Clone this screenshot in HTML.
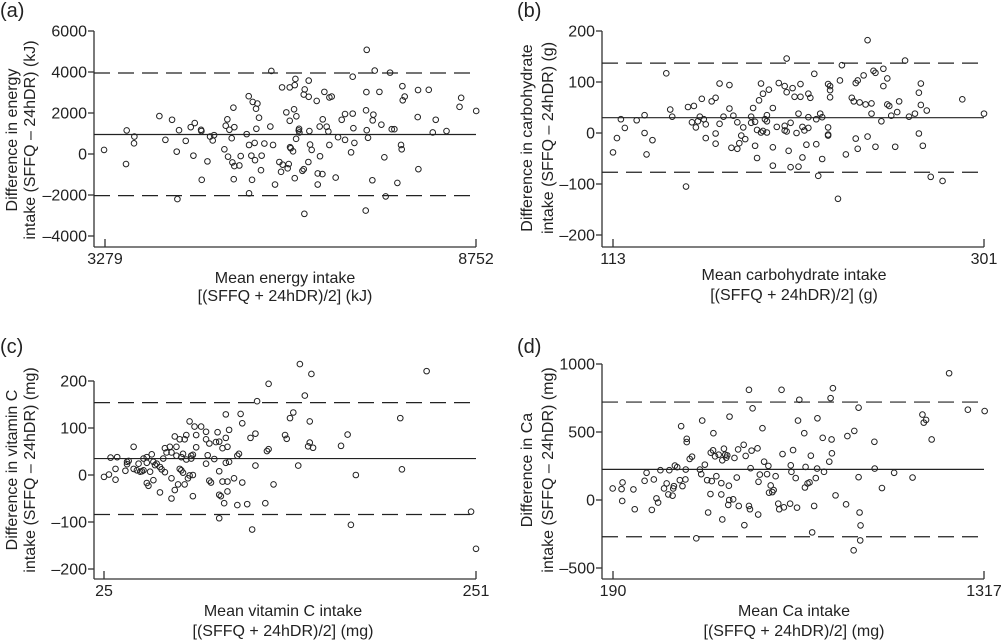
<!DOCTYPE html>
<html><head><meta charset="utf-8">
<style>
html,body{margin:0;padding:0;background:#fff;}
svg{display:block;font-family:"Liberation Sans",Arial,sans-serif;}
</style></head>
<body>
<svg id="fig" width="1004" height="641" viewBox="0 0 1004 641" xmlns="http://www.w3.org/2000/svg"></svg>
<script>
// ---- Panel (a) energy ----
const aX=[3265,3599,3589,3712,3707,4081,4170,4268,4337,4371,4347,4470,4544,4603,4583,4696,4701,4706,4790,4829,4868,4888,5040,5060,5084,5094,5114,5148,5158,5173,5187,5178,5187,5261,5281,5369,5399,5404,5404,5438,5458,5448,5487,5492,5512,5507,5527,5551,5580,5590,5630,5718,5733,5758,5787,5851,5876,5891,5900,5954,5974,5989,6004,6004,6009,6019,6053,6068,6078,6078,6088,6098,6102,6137,6142,6147,6191,6211,6220,6225,6211,6284,6284,6279,6294,6304,6328,6402,6417,6417,6451,6446,6486,6491,6515,6549,6574,6589,6589,6623,6682,6717,6771,6820,6820,6909,6933,6943,6933,6958,7125,7130,7135,7140,7140,7159,7223,7228,7238,7258,7327,7356,7400,7420,7484,7509,7548,7592,7646,7656,7666,7671,7700,7892,7897,7902,8055,8114,8158,8317,8509,8533,8755];
const aY=[200,1150,-490,850,520,1850,690,1670,115,1160,-2200,640,1310,1510,-80,1180,1120,-1260,-360,850,660,920,230,1380,1690,-130,1180,770,-410,2260,1310,-1230,-590,-560,-100,970,2820,440,-1920,-80,2540,-1260,540,-300,1230,2210,2460,1770,-790,-80,510,1340,4050,440,-1490,-390,-870,3250,-520,2030,-700,-490,1620,3250,330,280,130,2180,-1180,3360,3660,740,1840,1150,1230,1050,-820,-740,-2920,3150,2900,2790,3580,-390,1120,460,200,2590,-950,-1490,-110,1340,-980,1690,3030,1330,1100,2760,440,2800,-1150,820,1670,1950,690,80,3770,1260,1970,540,-2760,2130,3020,5080,1160,790,-1280,1640,1920,4070,3030,1430,-160,-2070,3970,1210,1210,-1410,440,230,3310,2620,2800,1800,3120,-740,3130,1050,1670,1120,2300,2740,2100];
const aYTicks=[6000,4000,2000,0,-2000,-4000];
const aXTicks=[3279,8752];
const aLines=[950,3950,-2030]; // mean, upper LoA, lower LoA

// ---- Panel (b) carbohydrate ----
const bX=[113,115,117,119,125,129,129,130,133,140,142,143,150,151,153,154,155,156,157,158,159,160,160,163,165,165,165,167,167,169,172,172,173,174,176,176,178,177,179,180,183,183,184,185,185,186,186,187,188,188,189,189,190,191,191,191,192,194,194,194,196,197,200,200,200,201,201,201,202,203,203,204,205,206,207,207,208,208,209,209,210,211,212,212,213,212,215,216,216,217,218,219,219,222,222,222,222,223,223,223,227,228,229,231,234,235,236,237,236,237,238,240,241,242,242,244,244,245,246,246,249,250,250,252,252,253,254,256,257,258,261,263,266,268,269,269,268,270,272,274,280,290,301];
const bY=[-38,-10,27,10,25,35,0,-42,-14,117,46,32,-105,51,21,53,11,23,32,67,27,17,-10,62,69,-1,-21,97,18,32,94,48,-29,34,21,-31,-5,-20,11,-12,32,20,49,-25,22,6,-49,64,1,97,77,4,27,23,1,35,85,-28,49,-64,12,98,92,14,5,146,80,3,-35,20,-67,88,71,0,-66,38,71,96,-48,12,5,-23,10,77,69,31,116,-22,27,-84,38,31,-51,11,-3,96,-5,84,92,70,-129,103,133,-42,69,62,-11,-31,98,103,60,113,56,182,-7,38,58,122,118,-27,23,126,92,107,56,53,34,-27,41,62,142,32,38,79,97,55,-1,-25,44,-86,-94,66,38];
const bYTicks=[200,100,0,-100,-200];
const bXTicks=[113,301];
const bLines=[30,137,-77];

// ---- Panel (c) vitamin C ----
const cX=[25,28,29,32,32,33,38,39,39,40,43,43,45,46,47,48,49,49,51,51,51,52,53,54,55,55,56,57,59,59,60,61,62,62,63,65,66,66,66,68,68,69,69,70,71,71,72,72,73,73,74,74,75,75,76,77,77,78,78,79,79,79,80,81,81,84,87,87,87,88,89,89,90,92,93,94,95,95,95,95,96,97,97,98,99,99,99,100,100,100,101,101,104,106,106,107,108,109,109,112,114,115,117,117,118,123,124,125,125,128,135,136,138,140,143,144,147,150,151,150,149,152,169,173,175,178,205,206,221,248,251];
const cY=[-4,1,37,13,-10,38,9,28,23,30,13,60,10,24,7,8,35,10,-17,26,38,-23,7,44,-11,28,21,24,17,-37,12,35,6,57,48,60,-7,-50,48,82,-32,60,41,-20,13,76,38,10,5,45,-20,76,33,85,-7,114,-1,35,41,-45,43,0,103,59,85,103,92,24,76,42,-12,67,-16,34,70,91,71,8,-92,-42,-45,-14,57,-60,26,79,129,-14,-35,60,96,28,-7,-64,41,45,130,-16,110,-62,79,-116,88,20,157,-60,51,55,194,-20,85,77,121,133,20,236,169,114,215,69,61,58,62,86,-106,0,121,12,221,-78,-157];
const cYTicks=[200,100,0,-100,-200];
const cXTicks=[25,251];
const cLines=[35,154,-84];

// ---- Panel (d) calcium ----
const dX=[189,216,219,218,252,256,286,292,308,314,322,327,334,345,353,358,361,371,373,375,378,385,393,397,401,410,411,414,414,423,430,443,454,458,461,469,476,479,486,487,490,495,494,500,504,511,519,522,519,522,527,531,534,537,542,544,543,540,555,559,566,570,572,587,589,593,603,603,606,608,611,614,629,631,632,636,644,649,658,662,664,669,674,678,684,692,695,702,705,709,728,730,732,737,745,749,752,756,771,773,775,781,787,791,795,801,806,810,811,827,831,847,851,854,855,858,866,898,902,921,923,936,936,939,942,941,984,985,1007,1044,1100,1130,1134,1141,1158,1211,1268,1319];
const dY=[85,80,129,-7,78,-68,141,200,-73,151,12,-19,219,85,122,41,219,32,85,102,253,241,146,543,102,151,224,450,426,302,319,-282,224,190,584,260,146,-92,44,348,139,491,365,321,175,333,124,-143,41,292,377,333,311,328,105,613,0,-36,5,309,165,372,-44,406,-185,324,810,-44,-68,234,363,674,380,-107,134,187,528,282,190,251,54,107,58,73,175,-27,-68,810,338,-54,-27,255,207,367,161,-56,584,737,491,92,243,122,129,326,-238,-44,161,231,601,457,207,282,749,445,343,822,34,-32,470,-370,508,679,168,-92,-187,-297,428,231,88,200,165,628,569,589,445,932,664,654];
const dYTicks=[1000,500,0,-500];
const dXTicks=[190,1317];
const dLines=[225,720,-270];

const NS="http://www.w3.org/2000/svg";
const svg=document.getElementById('fig');
function mk(tag,attrs,parent){const e=document.createElementNS(NS,tag);for(const k in attrs)e.setAttribute(k,attrs[k]);(parent||svg).appendChild(e);return e;}
function fmt(v){return v<0?'\u2013'+Math.abs(v):String(v);}

function panel(cfg){
  const g=mk('g',{});
  
  
  const sx=v=>cfg.x0+(v-cfg.xmin)/(cfg.xmax-cfg.xmin)*(cfg.x1-cfg.x0);
  const sy=v=>cfg.y0+(v-cfg.ymin)/(cfg.ymax-cfg.ymin)*(cfg.y1-cfg.y0);
  // panel label
  const pl=mk('text',{x:cfg.lx,y:cfg.ly,'font-size':20,fill:'#222'},g);pl.textContent='('+cfg.id+')';
  
  
  const ax=cfg.ax, ab=cfg.ab, right=sx(cfg.xmax);
  const topY=sy(cfg.yTicks[0]);
  // axes
  const yAxis=mk('line',{x1:ax,y1:topY,x2:ax,y2:ab,stroke:'#333','stroke-width':1.3},g);
  
  
  const xAxis=mk('line',{x1:ax,y1:ab,x2:right,y2:ab,stroke:'#333','stroke-width':1.3},g);
  
  
  cfg.yTicks.forEach(v=>{
    const y=sy(v);
    mk('line',{x1:ax-6,y1:y,x2:ax,y2:y,stroke:'#333','stroke-width':1.3},g);
    const t=mk('text',{x:ax-7,y:y+5.5,'font-size':16,'text-anchor':'end',fill:'#222'},g);
    t.textContent=fmt(v);
    
    
  });
  cfg.xTicks.forEach(v=>{
    const x=sx(v);
    mk('line',{x1:x,y1:ab-8,x2:x,y2:ab,stroke:'#333','stroke-width':1.3},g);
    const t=mk('text',{x:x,y:ab+17,'font-size':16,'text-anchor':'middle',fill:'#222'},g);
    t.textContent=fmt(v);
    
    
  });
  // reference lines
  const names=['mean-difference-line','upper-limit-line','lower-limit-line'];
  cfg.lines.forEach((v,i)=>{
    const l=mk('line',{x1:ax,y1:sy(v),x2:right,y2:sy(v),stroke:'#222','stroke-width':1.2},g);
    if(i>0)l.setAttribute('stroke-dasharray','16 8');
    
    
  });
  // points
  cfg.xs.forEach((xv,i)=>{
    const c=mk('circle',{cx:sx(xv),cy:sy(cfg.ys[i]),r:2.8,fill:'none',stroke:'#222','stroke-width':1},g);
    
    
  });
  // y label
  const cy=cfg.ycy;
  [[cfg.ylx1,cfg.yl1],[cfg.ylx2,cfg.yl2]].forEach(([x,s])=>{
    const t=mk('text',{x:x,y:cy,'font-size':16,'text-anchor':'middle',fill:'#222',transform:'rotate(-90 '+x+' '+cy+')'},g);
    t.textContent=s;
    
    
  });
  [[cfg.xly1,cfg.xl1],[cfg.xly2,cfg.xl2]].forEach(([y,s])=>{
    const t=mk('text',{x:cfg.xlx,y:y,'font-size':16,'text-anchor':'middle',fill:'#222'},g);
    t.textContent=s;
    
    
  });
}

panel({id:'a',xs:aX,ys:aY,xTicks:aXTicks,yTicks:aYTicks,lines:aLines,
  xmin:3279,xmax:8752,x0:105,x1:476,ymin:0,ymax:4000,y0:154,y1:72,ax:94,ab:247,
  lx:0,ly:17,ylx1:17,ylx2:35,ycy:140,yl1:'Difference in energy',yl2:'intake (SFFQ \u2013 24hDR) (kJ)',
  xlx:285,xly1:283,xly2:301,xl1:'Mean energy intake',xl2:'[(SFFQ + 24hDR)/2] (kJ)'});
panel({id:'b',xs:bX,ys:bY,xTicks:bXTicks,yTicks:bYTicks,lines:bLines,
  xmin:113,xmax:301,x0:613,x1:984,ymin:0,ymax:100,y0:133,y1:82,ax:602,ab:247,
  lx:517,ly:17,ylx1:532,ylx2:553,ycy:138,yl1:'Difference in carbohydrate',yl2:'intake (SFFQ \u2013 24hDR) (g)',
  xlx:794,xly1:280,xly2:300,xl1:'Mean carbohydrate intake',xl2:'[(SFFQ + 24hDR)/2] (g)'});
panel({id:'c',xs:cX,ys:cY,xTicks:cXTicks,yTicks:cYTicks,lines:cLines,
  xmin:25,xmax:251,x0:104,x1:476,ymin:0,ymax:100,y0:475,y1:428,ax:94,ab:579,
  lx:0,ly:353,ylx1:17,ylx2:35,ycy:470,yl1:'Difference in vitamin C',yl2:'intake (SFFQ \u2013 24hDR) (mg)',
  xlx:283,xly1:616,xly2:636,xl1:'Mean vitamin C intake',xl2:'[(SFFQ + 24hDR)/2] (mg)'});
panel({id:'d',xs:dX,ys:dY,xTicks:dXTicks,yTicks:dYTicks,lines:dLines,
  xmin:190,xmax:1317,x0:613,x1:984,ymin:0,ymax:500,y0:500,y1:432,ax:602,ab:579,
  lx:517,ly:353,ylx1:532,ylx2:553,ycy:470,yl1:'Difference in Ca',yl2:'intake (SFFQ \u2013 24hDR) (mg)',
  xlx:794,xly1:616,xly2:636,xl1:'Mean Ca intake',xl2:'[(SFFQ + 24hDR)/2] (mg)'});
</script>
</body></html>
